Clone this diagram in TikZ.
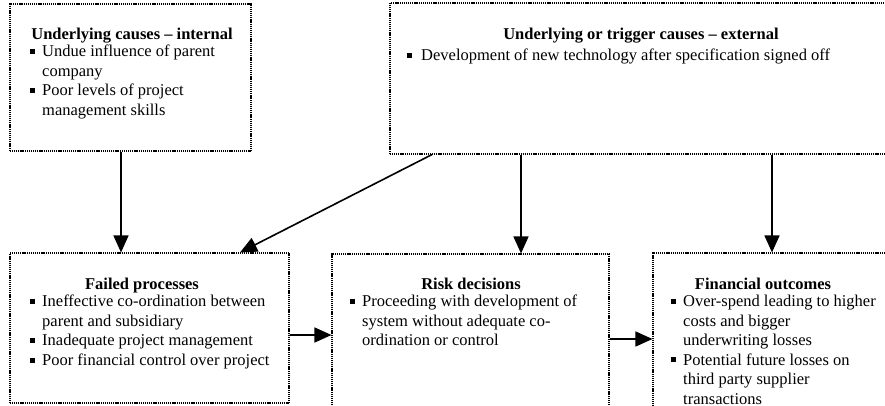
\documentclass[tikz,border=0pt]{standalone}
\usepackage{fontspec}
\setmainfont{Liberation Serif}
\usetikzlibrary{arrows.meta,fit}

% small square bullet and list-line helpers
\newcommand{\sqbul}{\rule[0.17em]{0.3em}{0.3em}}
\newcommand{\itm}[1]{\makebox[12pt][l]{\sqbul}#1}
\newcommand{\cnt}[1]{\hspace*{12pt}#1}

\tikzset{
  box/.style={draw, line width=1.1pt, dash pattern=on 1.1pt off 0.8pt, inner sep=0pt},
  arr/.style={line width=1.6pt, -{Triangle[length=17pt,width=15pt]}},
  txt/.style={font=\fontsize{16.5}{19.5}\selectfont, inner sep=0pt},
  ttl/.style={txt, font=\fontsize{16.5}{19.5}\selectfont\bfseries, anchor=base},
  body/.style={txt, anchor=north west, align=left},
}

\begin{document}
\begin{tikzpicture}[x=1pt,y=-1pt]
\useasboundingbox (0,0) rectangle (885,406);
\fill[white] (0,0) rectangle (885,406);
\clip (0,0) rectangle (885,406);

% frames
\node[box, fit={(10,4) (251,151)}] (int) {};
\node[box, fit={(390,3) (893,154)}] (ext) {};
\node[box, fit={(10,253) (289,403)}] (fail) {};
\node[box, fit={(332,254) (609,430)}] (risk) {};
\node[box, fit={(653,253) (900,430)}] (fin) {};

% titles
\node[ttl] (intT)  at (132,40)  {Underlying causes -- internal};
\node[ttl] (extT)  at (641,40)  {Underlying or trigger causes -- external};
\node[ttl] (failT) at (142,289) {Failed processes};
\node[ttl] (riskT) at (471,289) {Risk decisions};
\node[ttl] (finT)  at (763,289) {Financial outcomes};

% bullet lists
\node[body] (intB) at (30,45) {\itm{Undue influence of parent}\\ \cnt{company}\\
  \itm{Poor levels of project}\\ \cnt{management skills}};
\node[body] (extB) at (407,49) {\makebox[14pt][l]{\sqbul}Development of new technology after specification signed off};
\node[body] (failB) at (30,295) {\itm{Ineffective co-ordination between}\\ \cnt{parent and subsidiary}\\
  \itm{Inadequate project management}\\ \itm{Poor financial control over project}};
\node[body] (riskB) at (350,295) {\itm{Proceeding with development of}\\ \cnt{system without adequate co-}\\
  \cnt{ordination or control}};
\node[body] (finB) at (671,295) {\itm{Over-spend leading to higher}\\ \cnt{costs and bigger}\\
  \cnt{underwriting losses}\\ \itm{Potential future losses on}\\ \cnt{third party supplier}\\
  \cnt{transactions}};

% connector guides
\coordinate (c1) at (121,0);
\coordinate (d1) at (432,0);
\coordinate (d2) at (240,0);
\coordinate (c2) at (521,0);
\coordinate (c3) at (772,0);
\coordinate (r1) at (0,335);
\coordinate (r2) at (0,339);

% connectors
\draw[arr] (int.south -| c1) -- (fail.north -| c1);
\draw[arr] (ext.south -| d1) -- (fail.north -| d2);
\draw[arr] (ext.south -| c2) -- (risk.north -| c2);
\draw[arr] (ext.south -| c3) -- (fin.north -| c3);
\draw[arr] (fail.east |- r1) -- (risk.west |- r1);
\draw[arr] (risk.east |- r2) -- (fin.west |- r2);
\end{tikzpicture}
\end{document}
